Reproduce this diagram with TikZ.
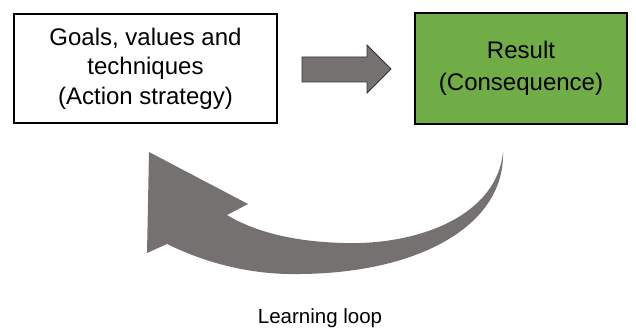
\documentclass[tikz,border=0pt]{standalone}
\usepackage{fontspec}
\setmainfont{Liberation Sans}
\definecolor{arrowgray}{HTML}{767171}
\definecolor{resgreen}{HTML}{70AD47}
\begin{document}
\begin{tikzpicture}[x=1pt,y=-1pt,
  boxstyle/.style={draw=black,line width=2.2pt,minimum width=263pt,minimum height=109pt,inner sep=0pt,align=center,font=\fontsize{24}{29.5}\selectfont},
  txt/.style={font=\fontsize{20.5}{24}\selectfont}]
\useasboundingbox (0,0) rectangle (636,331);
\node[boxstyle,fill=white] (goals) at (145.5,68.5) {Goals, values and\\techniques\\(Action strategy)};
\node[boxstyle,fill=resgreen,minimum width=212pt,minimum height=111pt,font=\fontsize{24}{32}\selectfont] (result) at (521,68.5) {Result\\(Consequence)};
% straight arrow
\draw[fill=arrowgray,draw=black!80,line width=0.8pt]
  (302,57) -- (367,57) -- (367,45) -- (391,69) -- (367,93) -- (367,82) -- (302,82) -- cycle;
% curved learning loop arrow
\coordinate (tail) at (503,152);
\fill[arrowgray]
  (tail) .. controls (497,215) and (420,245) .. (345,243)
  .. controls (295,242) and (255,232) .. (227,215)
  -- (248,204) -- (149,152) -- (147,253) -- (167,244)
  .. controls (210,265) and (255,275) .. (300,274)
  .. controls (420,273) and (505,225) .. (tail) -- cycle;
\node[txt] (loop) at (320,318) {Learning loop};
\end{tikzpicture}
\end{document}
